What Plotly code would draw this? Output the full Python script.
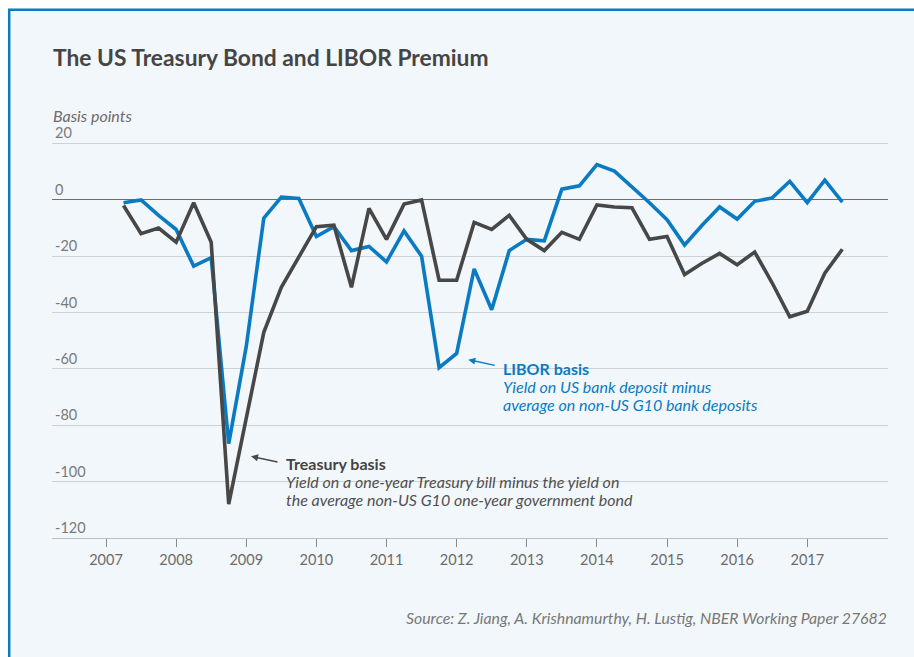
import plotly.graph_objects as go

# ---------------- data (quarterly, basis points) ----------------
quarters = [2007.25 + 0.25 * i for i in range(42)]  # 2007Q2 ... 2017Q3 (decimal years)

treasury_basis = [-2, -12, -10, -15, -1, -15, -108, -77, -47, -31,
                  -20, -9.5, -9, -31, -3, -14, -1.5, 0, -28.5, -28.5,
                  -8, -10.5, -5.5, -14, -18, -11.5, -14, -1.8, -2.5, -2.8,
                  -14, -13, -26.5, -22.5, -19, -23, -18.5, -29.5, -41.5, -39.5,
                  -26, -17.5]

libor_basis = [-1, 0, -5.5, -10.5, -23.5, -20.5, -86.5, -52, -6.5, 1,
               0.5, -13, -9.5, -18, -16.5, -22, -11, -20, -59.5, -54.5,
               -24.5, -39, -18, -14, -14.5, 3.8, 5, 12.5, 10.2, 4.8,
               -1, -7, -16, -9, -2.5, -6.8, -0.5, 0.7, 6.6, -1,
               7, -0.8]

y_tickvals = [20, 0, -20, -40, -60, -80, -100, -120]
y_ticktext = ["20", "0", "-20", "-40", "-60", "-80", "-100", "-120"]
x_tickvals = [2007, 2008, 2009, 2010, 2011, 2012, 2013, 2014, 2015, 2016, 2017]
x_ticktext = [str(v) for v in x_tickvals]

TITLE = "The US Treasury Bond and LIBOR Premium"
Y_LABEL = "Basis points"
SOURCE = "Source: Z. Jiang, A. Krishnamurthy, H. Lustig, NBER Working Paper 27682"
TREASURY_LINES = ["Treasury basis",
                  "Yield on a one-year Treasury bill minus the yield on",
                  "the average non-US G10 one-year government bond"]
LIBOR_LINES = ["LIBOR basis",
               "Yield on US bank deposit minus",
               "average on non-US G10 bank deposits"]

# ---------------- styling ----------------
BLUE = "#0a7bc2"
DARK = "#474747"
BG = "#f2f7fb"
FONT = "Lato"

W, H = 914, 657
Y_TOP = 28.0
PX_PER_UNIT = 2.8167
ML, MR = 52, 26
PLOT_BOT = 538.3
PLOT_TOP = PLOT_BOT - (Y_TOP + 120) * PX_PER_UNIT
MT, MB = PLOT_TOP, H - PLOT_BOT
PW = W - ML - MR
PH = PLOT_BOT - PLOT_TOP


def px_x(p):
    return (p - ML) / PW


def px_y(p):
    return (PLOT_BOT - p) / PH


fig = go.Figure()

fig.add_trace(go.Scatter(x=quarters, y=libor_basis, mode="lines",
                         line=dict(color=BLUE, width=3.6), name="LIBOR basis",
                         hoverinfo="skip"))
fig.add_trace(go.Scatter(x=quarters, y=treasury_basis, mode="lines",
                         line=dict(color=DARK, width=3.6), name="Treasury basis",
                         hoverinfo="skip"))

shapes = [
    # frame
    dict(type="rect", xref="paper", yref="paper",
         x0=px_x(9.2), x1=px_x(930), y0=px_y(10.2), y1=px_y(680),
         line=dict(color=BLUE, width=2.5), fillcolor=BG, layer="below"),
    # masks hiding gridlines behind label blocks
    dict(type="rect", xref="paper", yref="paper",
         x0=px_x(269.5), x1=px_x(639), y0=px_y(474), y1=px_y(489),
         line=dict(width=0), fillcolor=BG, layer="between"),
    dict(type="rect", xref="paper", yref="paper",
         x0=px_x(448.5), x1=px_x(600), y0=px_y(362), y1=px_y(377),
         line=dict(width=0), fillcolor=BG, layer="between"),
]

annotations = [
    dict(text=TITLE, xref="paper", yref="paper", x=px_x(51), y=px_y(57),
         xanchor="left", yanchor="middle", showarrow=False,
         font=dict(family=FONT, size=22.8, color="#454545", weight="bold")),
    dict(text="<i>" + Y_LABEL + "</i>", xref="paper", yref="paper", x=px_x(51), y=px_y(115.7),
         xanchor="left", yanchor="middle", showarrow=False,
         font=dict(family=FONT, size=16, color="#6b6b6b")),
    dict(text="<i>" + SOURCE + "</i>", xref="paper", yref="paper", x=px_x(889), y=px_y(618),
         xanchor="right", yanchor="middle", showarrow=False,
         font=dict(family=FONT, size=15.8, color="#777777")),
    # arrows
    dict(text="", xref="x", yref="y", x=2009.068, y=-91.0, ax=28, ay=6,
         showarrow=True, arrowhead=2, arrowsize=1, arrowwidth=1.4, arrowcolor=DARK,
         standoff=0, startstandoff=0),
    dict(text="", xref="x", yref="y", x=2012.166, y=-56.7, ax=28, ay=6,
         showarrow=True, arrowhead=2, arrowsize=1, arrowwidth=1.4, arrowcolor=BLUE,
         standoff=0, startstandoff=0),
]

# label blocks, one annotation per line for tight line spacing
for i, (txt, ypx) in enumerate(zip(TREASURY_LINES, [463.5, 481.7, 499.9])):
    annotations.append(dict(
        text=("<b>%s</b>" if i == 0 else "<i>%s</i>") % txt,
        xref="paper", yref="paper", x=px_x(285), y=px_y(ypx),
        xanchor="left", yanchor="middle", showarrow=False, borderpad=0,
        font=dict(family=FONT, size=16, color="#444444" if i == 0 else "#505050")))
for i, (txt, ypx) in enumerate(zip(LIBOR_LINES, [368.5, 386.7, 404.9])):
    annotations.append(dict(
        text=("<b>%s</b>" if i == 0 else "<i>%s</i>") % txt,
        xref="paper", yref="paper", x=px_x(502), y=px_y(ypx),
        xanchor="left", yanchor="middle", showarrow=False, borderpad=0,
        font=dict(family=FONT, size=16, color=BLUE)))

fig.update_layout(
    width=W, height=H,
    margin=dict(l=ML, r=MR, t=MT, b=MB, pad=0),
    paper_bgcolor="white", plot_bgcolor="rgba(0,0,0,0)",
    showlegend=False,
    font=dict(family=FONT, size=14, color="#6b6b6b"),
    shapes=shapes, annotations=annotations,
    xaxis=dict(range=[2006.230, 2018.151], tickvals=x_tickvals, ticktext=x_ticktext,
               showgrid=False, zeroline=False, showline=True, linecolor="#bdbdbd", linewidth=1.2,
               ticks="outside", ticklen=8, tickcolor="#8a8a8a", tickwidth=1.2,
               tickfont=dict(family=FONT, size=14.5, color="#6b6b6b"), fixedrange=True),
    yaxis=dict(range=[-120, Y_TOP], tickvals=y_tickvals, ticktext=y_ticktext,
               ticklabelposition="inside top", showgrid=True, gridcolor="#cfd2d5", gridwidth=1.2,
               zeroline=True, zerolinecolor="#6e6e6e", zerolinewidth=1.2,
               showline=False, ticks="",
               tickfont=dict(family=FONT, size=14.5, color="#7a7a7a"), fixedrange=True),
)

fig.write_html("out.html", config={"displayModeBar": False},
               post_script="document.body.style.margin='0px';document.body.style.padding='0px';")
